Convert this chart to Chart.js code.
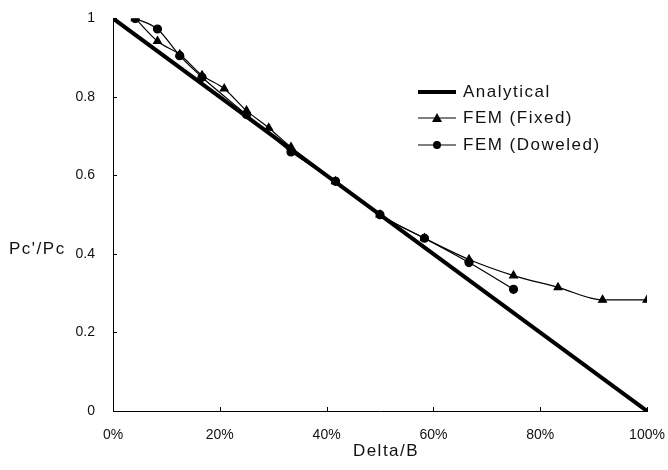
<!DOCTYPE html>
<html>
<head>
<meta charset="utf-8">
<script src="https://cdn.jsdelivr.net/npm/chart.js@4"></script>
<style>
  html, body { margin: 0; padding: 0; background: #fff; }
  #wrap { width: 668px; height: 470px; }
</style>
</head>
<body>
<div id="wrap"><canvas id="chart"></canvas></div>
<script>
// Delta/B in percent
const analyticalX = [0, 100];
const analyticalY = [1, 0];

const fixedX = [4.17, 8.33, 12.5, 16.67, 20.83, 25, 29.17, 33.33, 41.67, 50, 58.33, 66.67, 75, 83.33, 91.67, 100];
const fixedY = [1.0, 0.942, 0.908, 0.855, 0.821, 0.765, 0.721, 0.672, 0.585, 0.50, 0.44, 0.386, 0.345, 0.315, 0.283, 0.283];

const doweledX = [4.17, 8.33, 12.5, 16.67, 25, 33.33, 41.67, 50, 58.33, 66.67, 75];
const doweledY = [1.0, 0.973, 0.905, 0.85, 0.755, 0.66, 0.585, 0.50, 0.44, 0.378, 0.31];

const xTicks = [0, 20, 40, 60, 80, 100];
const yTicks = [0, 0.2, 0.4, 0.6, 0.8, 1];

const toPoints = (xs, ys) => xs.map((x, i) => ({ x: x, y: ys[i] }));

const FONT = '"Liberation Sans", Arial, sans-serif';

// inward tick marks, axis titles and the legend box
const extras = {
    id: 'extras',
    afterDraw(chart) {
        const { ctx, chartArea, scales } = chart;
        ctx.save();
        ctx.strokeStyle = '#000';
        ctx.lineWidth = 1;
        ctx.beginPath();
        xTicks.forEach(v => {
            const px = Math.round(scales.x.getPixelForValue(v)) + 0.5;
            ctx.moveTo(px, chartArea.bottom);
            ctx.lineTo(px, chartArea.bottom - 4);
        });
        yTicks.forEach(v => {
            const py = Math.round(scales.y.getPixelForValue(v)) + 0.5;
            ctx.moveTo(chartArea.left, py);
            ctx.lineTo(chartArea.left + 4, py);
        });
        ctx.stroke();

        ctx.fillStyle = '#111';
        ctx.font = '17px ' + FONT;
        ctx.letterSpacing = '1.5px';
        ctx.textBaseline = 'middle';
        ctx.textAlign = 'left';
        ctx.fillText("Pc'/Pc", 9, 249);
        ctx.textAlign = 'center';
        ctx.fillText('Delta/B', 386, 451);

        // legend
        const items = chart.data.datasets;
        const rows = [92, 118, 145];
        ctx.textAlign = 'left';
        items.forEach((ds, i) => {
            const y = rows[i];
            ctx.strokeStyle = '#000';
            ctx.lineWidth = ds.borderWidth;
            ctx.beginPath();
            ctx.moveTo(418, y);
            ctx.lineTo(456, y);
            ctx.stroke();
            ctx.fillStyle = '#000';
            if (ds.pointStyle === 'triangle') {
                ctx.beginPath();
                ctx.moveTo(437, y - 5);
                ctx.lineTo(442, y + 4);
                ctx.lineTo(432, y + 4);
                ctx.closePath();
                ctx.fill();
            } else if (ds.pointStyle === 'circle' && ds.pointRadius > 0) {
                ctx.beginPath();
                ctx.arc(437, y, 4, 0, Math.PI * 2);
                ctx.fill();
            }
            ctx.fillStyle = '#111';
            ctx.fillText(ds.label, 463, y);
        });
        ctx.restore();
    }
};

new Chart(document.getElementById('chart'), {
    type: 'line',
    data: {
        datasets: [
            {
                label: 'Analytical',
                data: toPoints(analyticalX, analyticalY),
                borderColor: '#000',
                borderWidth: 4,
                pointRadius: 0,
                pointStyle: 'circle',
                tension: 0
            },
            {
                label: 'FEM (Fixed)',
                data: toPoints(fixedX, fixedY),
                borderColor: '#000',
                backgroundColor: '#000',
                borderWidth: 1.2,
                pointStyle: 'triangle',
                pointRadius: 4.5,
                cubicInterpolationMode: 'monotone'
            },
            {
                label: 'FEM (Doweled)',
                data: toPoints(doweledX, doweledY),
                borderColor: '#000',
                backgroundColor: '#000',
                borderWidth: 1.2,
                pointStyle: 'circle',
                pointRadius: 4,
                cubicInterpolationMode: 'monotone'
            }
        ]
    },
    options: {
        responsive: true,
        maintainAspectRatio: false,
        animation: false,
        layout: { padding: { top: 10, right: 0, left: 0, bottom: 0 } },
        plugins: { legend: { display: false }, tooltip: { enabled: false } },
        scales: {
            x: {
                type: 'linear',
                min: 0,
                max: 100,
                afterFit: s => { s.height = 59; s.paddingRight = 21; s.paddingLeft = 0; },
                afterBuildTicks: s => { s.ticks = xTicks.map(v => ({ value: v })); },
                border: { color: '#000', width: 1 },
                grid: { display: false },
                ticks: {
                    color: '#111',
                    font: { family: FONT, size: 14 },
                    padding: 8,
                    maxRotation: 0,
                    callback: v => v + '%'
                }
            },
            y: {
                min: 0,
                max: 1,
                afterFit: s => { s.width = 113; },
                afterBuildTicks: s => { s.ticks = yTicks.map(v => ({ value: v })); },
                border: { color: '#000', width: 1 },
                grid: { display: false },
                ticks: {
                    color: '#111',
                    font: { family: FONT, size: 14 },
                    padding: 10,
                    callback: v => String(v)
                }
            }
        }
    },
    plugins: [extras]
});
</script>
</body>
</html>
